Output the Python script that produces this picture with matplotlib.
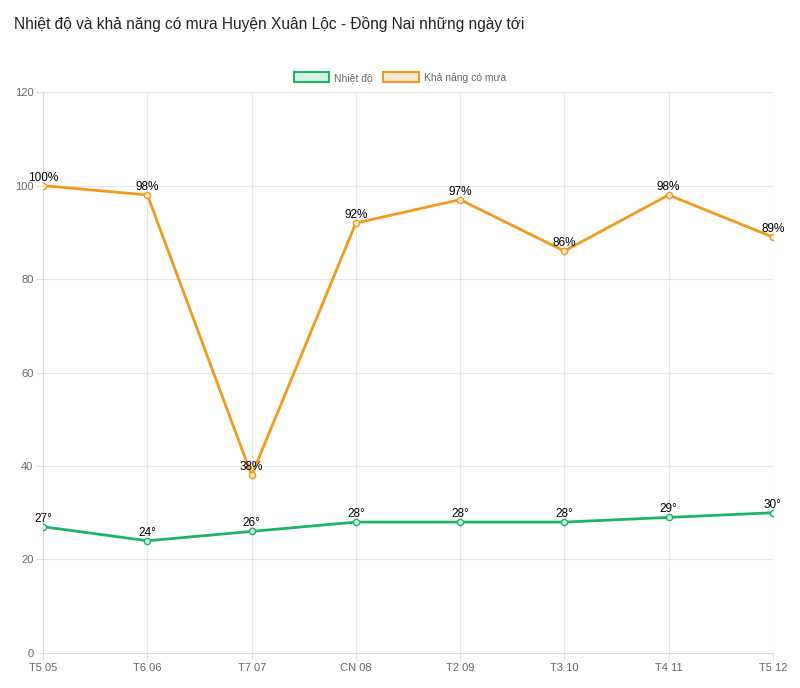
import matplotlib.pyplot as plt
from matplotlib.patches import Patch

days = ['T5 05', 'T6 06', 'T7 07', 'CN 08', 'T2 09', 'T3 10', 'T4 11', 'T5 12']
temp = [27, 24, 26, 28, 28, 28, 29, 30]
rain = [100, 98, 38, 92, 97, 86, 98, 89]

green = '#1db46a'
orange = '#f39a1e'

plt.rcParams['font.family'] = ['Liberation Sans', 'DejaVu Sans']

fig = plt.figure(figsize=(8, 6.88), dpi=100)
ax = fig.add_axes([0.054, 0.051, 0.912, 0.815])

x = list(range(len(days)))
ax.plot(x, temp, color=green, lw=2, marker='o', ms=4.5,
        mfc='#d4f1e1', mec=green, mew=1, zorder=3)
ax.plot(x, rain, color=orange, lw=2, marker='o', ms=4.5,
        mfc='#fde9cf', mec=orange, mew=1, zorder=3)

for xi, v in zip(x, temp):
    ax.annotate(f'{v}°', (xi, v), xytext=(0, 1.5), textcoords='offset points',
                ha='center', va='bottom', fontsize=8.5, color='black', zorder=4)
for xi, v in zip(x, rain):
    ax.annotate(f'{v}%', (xi, v), xytext=(0, 1.5), textcoords='offset points',
                ha='center', va='bottom', fontsize=8.5, color='black', zorder=4)

ax.set_xlim(0, len(days) - 1)
ax.set_ylim(0, 120)
ax.set_yticks(range(0, 121, 20))
ax.set_xticks(x)
ax.set_xticklabels(days)
ax.grid(True, color='#e6e6e6', lw=0.8)
ax.set_axisbelow(True)
for s in ['top', 'right']:
    ax.spines[s].set_visible(False)
for s in ['left', 'bottom']:
    ax.spines[s].set_color('#d9d9d9')
ax.tick_params(colors='#666666', labelsize=8, length=5, width=0.8, pad=2)
ax.tick_params(axis='both', color='#e0e0e0')

fig.text(0.0175, 0.965, 'Nhiệt độ và khả năng có mưa Huyện Xuân Lộc - Đồng Nai những ngày tới',
         fontsize=11.2, color='#222222', va='center')

handles = [Patch(facecolor='#d4f1e1', edgecolor=green, lw=1.5, label='Nhiệt độ'),
           Patch(facecolor='#fde9cf', edgecolor=orange, lw=1.5, label='Khả năng có mưa')]
fig.legend(handles=handles, loc='center', bbox_to_anchor=(0.5, 0.887), ncol=2,
           frameon=False, fontsize=7.5, labelcolor='#666666',
           handlelength=3.4, handleheight=1.1, columnspacing=1.0, handletextpad=0.5)

fig.savefig('out.png', dpi=100, facecolor='white')
